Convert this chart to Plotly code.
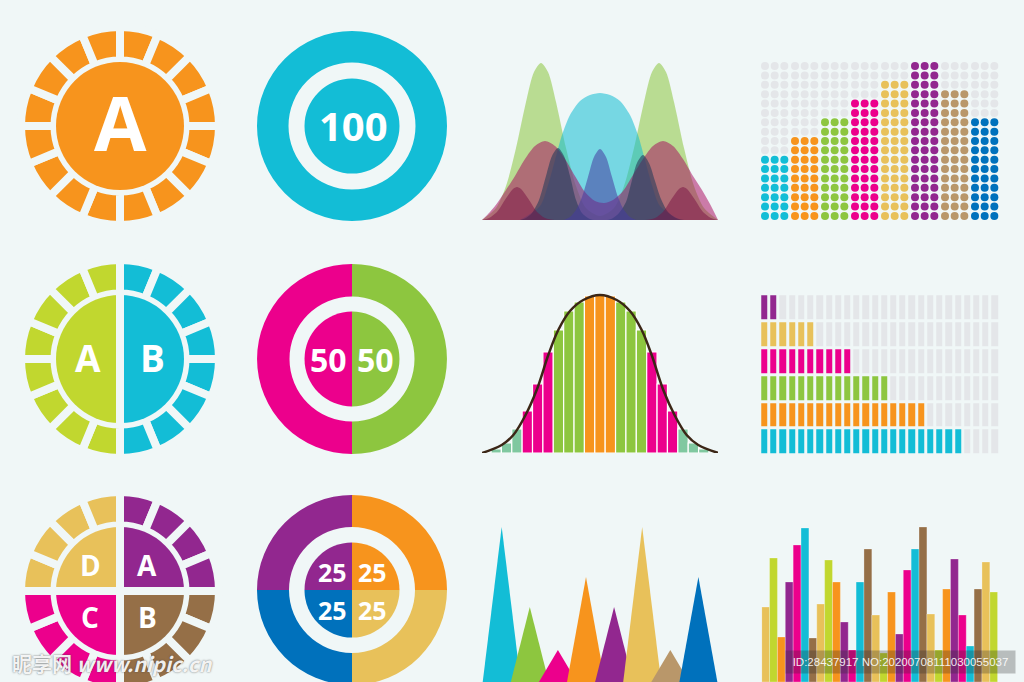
import plotly.graph_objects as go

W, H = 1024, 700
BG = "#f0f7f7"

ORANGE = "#f7941d"; CYAN = "#13bdd6"; LIME = "#c1d72f"; GREEN = "#8dc63f"
MAGENTA = "#ec008c"; PURPLE = "#92278f"; YELLOW = "#e8c15a"; BROWN = "#956f47"
TAN = "#b9976a"; BLUE = "#0071bc"; MINT = "#80c8a0"; GRAY = "#e4e6e9"

# ---------------- data ----------------
ring_segments = [1] * 16                 # segmented outer rings
sun_label = "A"
target_label = "100"
half_labels = ["A", "B"]
half_values = [50, 50]
quarter_labels = ["D", "A", "C", "B"]    # TL, TR, BL, BR
quarter_values = [25, 25, 25, 25]

# overlapping waves (x position, height)
wave_green_x = [482, 496, 506, 516, 526, 534, 541, 548, 556, 566, 576, 586, 600, 614, 624, 634, 644, 652, 659, 666, 674, 684, 694, 704, 718]
wave_green_y = [0, 12, 34, 72, 118, 148, 157, 148, 118, 72, 34, 12, 4, 12, 34, 72, 118, 148, 157, 148, 118, 72, 34, 12, 0]
wave_cyan_x = [520, 540, 548, 555, 562, 570, 580, 590, 600, 610, 620, 630, 638, 645, 652, 660, 680]
wave_cyan_y = [0, 14, 35, 60, 85, 105, 119, 125, 127, 125, 119, 105, 85, 60, 35, 14, 0]
wave_red_x = [482, 490, 498, 506, 515, 525, 535, 545, 555, 565, 575, 585, 595, 604, 613, 623, 633, 643, 653, 663, 673, 683, 693, 702, 710, 718]
wave_red_y = [0, 8, 18, 30, 44, 61, 74, 79, 74, 61, 44, 28, 19, 17, 20, 29, 45, 61, 74, 79, 74, 61, 44, 30, 16, 0]
wave_slate_x = [520, 526, 532, 539, 546, 552, 558, 564, 570, 576, 582, 588, 594, 607, 613, 619, 626, 631, 637, 643, 649, 655, 661, 668, 676, 684]
wave_slate_y = [0, 2, 7, 20, 44, 64, 72, 64, 44, 20, 7, 2, 0, 0, 2, 7, 18, 36, 57, 65, 57, 39, 21, 8, 2, 0]
wave_violet_x = [564, 570, 576, 582, 588, 594, 600, 606, 612, 618, 624, 630, 636]
wave_violet_y = [0, 3, 10, 23, 43, 63, 71, 63, 43, 23, 10, 3, 0]
wave_dark_x = [482, 489, 497, 503, 509, 513, 517, 521, 525, 531, 537, 545, 555, 645, 655, 663, 669, 675, 679, 683, 687, 691, 697, 703, 711, 718]
wave_dark_y = [0, 2, 8, 17, 26, 31, 33, 31, 26, 17, 8, 2, 0, 0, 2, 8, 17, 26, 31, 33, 31, 26, 17, 8, 2, 0]

# dot grid
dot_levels = [7, 9, 11, 13, 15, 17, 14, 11]
dot_colors = [CYAN, ORANGE, GREEN, MAGENTA, YELLOW, PURPLE, TAN, BLUE]
dot_rows = 17
dot_cols = 3

# histogram + normal curve
hist_heights = [4, 10, 24, 42, 69, 101, 123, 142, 151, 157, 158, 157, 151, 142, 123, 101, 69, 42, 24, 10, 4]
hist_colors = [MINT] * 3 + [MAGENTA] * 3 + [GREEN] * 3 + [ORANGE] * 3 + [GREEN] * 3 + [MAGENTA] * 3 + [MINT] * 3
bell_x = [-1.37, 0.53, 1.65, 2.78, 3.90, 5.02, 5.98, 7.11, 8.39, 10.0, 11.61, 12.89, 14.02, 14.98, 16.10, 17.23, 18.35, 19.47, 21.4]
bell_y = [0, 8, 18, 37, 63, 98, 123, 142, 153, 158, 153, 142, 123, 98, 63, 37, 18, 8, 0]

# segmented horizontal bars (bottom row first)
seg_counts = [22, 18, 14, 10, 6, 2]
seg_colors = [CYAN, ORANGE, GREEN, MAGENTA, YELLOW, PURPLE]
seg_total = 26

# spikes
spike_heights = [155, 75, 32, 105, 75, 155, 32, 105]
spike_colors = [CYAN, GREEN, MAGENTA, ORANGE, PURPLE, YELLOW, TAN, BLUE]

# column bars
bar_heights = [75, 124, 45, 100, 137, 154, 44, 78, 122, 100, 60, 32, 100, 133, 67, 29,
               90, 48, 112, 133, 155, 68, 32, 93, 123, 67, 36, 93, 120, 90]
bar_cycle = [YELLOW, LIME, ORANGE, PURPLE, MAGENTA, CYAN, BROWN]

# ---------------- helpers ----------------
def fx(px):
    return px / W

def fy(py):
    return 1 - py / H

def pie_dom(cx, cy, r):
    return dict(x=[fx(cx - r), fx(cx + r)], y=[fy(cy + r), fy(cy - r)])

fig = go.Figure()

def add_pie(cx, cy, r, values, colors, hole=0, line_w=0):
    fig.add_trace(go.Pie(values=values, marker=dict(colors=colors, line=dict(color=BG, width=line_w)),
                         hole=hole, domain=pie_dom(cx, cy, r), sort=False, direction="clockwise",
                         rotation=0, textinfo="none", hoverinfo="skip", showlegend=False))

def label(x, y, text, size, color="white", family="Open Sans", weight=700):
    fig.add_annotation(x=fx(x), y=fy(y), xref="paper", yref="paper", text=text, showarrow=False,
                       xanchor="center", yanchor="middle",
                       font=dict(family=family, size=size, color=color, weight=weight))

def gap_line(x0, y0, x1, y1):
    fig.add_shape(type="line", xref="paper", yref="paper", x0=fx(x0), y0=fy(y0), x1=fx(x1), y1=fy(y1),
                  line=dict(color=BG, width=8), layer="above")

RING_R, RING_HOLE, DISC_R = 99, 0.6616, 64

# ---- column 1: segmented sun rings ----
cx, cy = 120, 126
add_pie(cx, cy, RING_R, ring_segments, [ORANGE] * 16, RING_HOLE, 8)
add_pie(cx, cy, DISC_R, [1], [ORANGE])
label(120, 122, sun_label, 76)

cx, cy = 120, 359
add_pie(cx, cy, RING_R, ring_segments, [CYAN] * 8 + [LIME] * 8, RING_HOLE, 8)
add_pie(cx, cy, DISC_R, half_values, [CYAN, LIME])
gap_line(cx, cy - 68, cx, cy + 68)
label(88, 357, half_labels[0], 37)
label(152, 357, half_labels[1], 37)

cx, cy = 120, 591
add_pie(cx, cy, RING_R, ring_segments, [PURPLE] * 4 + [BROWN] * 4 + [MAGENTA] * 4 + [YELLOW] * 4, RING_HOLE, 8)
add_pie(cx, cy, DISC_R, quarter_values, [PURPLE, BROWN, MAGENTA, YELLOW])
gap_line(cx, cy - 68, cx, cy + 68)
gap_line(cx - 68, cy, cx + 68, cy)
for (lx, ly), t in zip([(90, 565), (147, 565), (90, 617), (147, 617)], quarter_labels):
    label(lx, ly, t, 28)

# ---- column 2: donuts ----
cx, cy = 352, 126
add_pie(cx, cy, 95, [1], [CYAN], 63.5 / 95)
add_pie(cx, cy, 47.5, [1], [CYAN])
label(353, 126, target_label, 40)

cx, cy = 352, 359
add_pie(cx, cy, 95, half_values, [GREEN, MAGENTA], 62.5 / 95)
add_pie(cx, cy, 47.5, half_values, [GREEN, MAGENTA])
label(328, 360, str(half_values[1]), 32)
label(375, 360, str(half_values[0]), 32)

cx, cy = 352, 590
add_pie(cx, cy, 95, quarter_values, [ORANGE, YELLOW, BLUE, PURPLE], 63 / 95)
add_pie(cx, cy, 47.5, quarter_values, [ORANGE, YELLOW, BLUE, PURPLE])
for (lx, ly), v in zip([(332, 572), (372, 572), (332, 610), (372, 610)], quarter_values):
    label(lx, ly, str(v), 25)

# ---- axes helper ----
layout_axes = {}
def place(n, left, right, top, bottom, xr, yr):
    layout_axes[f"xaxis{n}"] = dict(domain=[fx(left), fx(right)], range=xr, visible=False,
                                    fixedrange=True, anchor=f"y{n}")
    layout_axes[f"yaxis{n}"] = dict(domain=[fy(bottom), fy(top)], range=yr, visible=False,
                                    fixedrange=True, anchor=f"x{n}")

# ---- waves ----
place(1, 482, 718, 60, 220, [482, 718], [0, 160])
for xs, ys, col in [(wave_green_x, wave_green_y, "rgba(141,198,63,0.55)"),
                    (wave_cyan_x, wave_cyan_y, "rgba(19,189,212,0.55)"),
                    (wave_red_x, wave_red_y, "rgba(165,0,90,0.5)"),
                    (wave_slate_x, wave_slate_y, "rgba(40,60,90,0.6)"),
                    (wave_violet_x, wave_violet_y, "rgba(70,60,160,0.55)"),
                    (wave_dark_x, wave_dark_y, "rgba(120,15,65,0.5)")]:
    fig.add_trace(go.Scatter(x=xs, y=ys, mode="lines", line=dict(width=0, shape="spline", smoothing=0.8),
                             fill="tozeroy", fillcolor=col, hoverinfo="skip", showlegend=False,
                             xaxis="x1", yaxis="y1"))

# ---- dot grid ----
place(2, 750, 1010, 56, 226, [-0.8223, 7.8443], [-1.0667, 17.0667])
dx, dy, dc = [], [], []
for g, (lvl, col) in enumerate(zip(dot_levels, dot_colors)):
    for j in range(dot_cols):
        for r in range(dot_rows):
            dx.append(g + (j - 1) * 0.3222)
            dy.append(r)
            dc.append(col if r < lvl else GRAY)
fig.add_trace(go.Scatter(x=dx, y=dy, mode="markers", marker=dict(size=8, color=dc, line=dict(width=0)),
                         hoverinfo="skip", showlegend=False, xaxis="x2", yaxis="y2"))

# ---- histogram ----
place(3, 482, 718, 290, 453, [-1.367, 21.37], [0, 163])
fig.add_trace(go.Bar(x=list(range(len(hist_heights))), y=hist_heights, width=1,
                     marker=dict(color=hist_colors, line=dict(color="white", width=1.2)),
                     hoverinfo="skip", showlegend=False, xaxis="x3", yaxis="y3"))
fig.add_trace(go.Scatter(x=bell_x, y=bell_y, mode="lines", line=dict(color="#3b2616", width=2.5, shape="spline"),
                         hoverinfo="skip", showlegend=False, xaxis="x3", yaxis="y3"))

# ---- segmented horizontal bars ----
place(4, 760.2, 999.8, 294.2, 455.5, [-0.5, seg_total - 0.5], [-0.5, len(seg_counts) - 0.5])
z = [[(i + 1) if c < cnt else 0 for c in range(seg_total)] for i, cnt in enumerate(seg_counts)]
palette = [GRAY] + seg_colors
n = len(palette)
cs = []
for k, col in enumerate(palette):
    cs.append([k / n, col]); cs.append([(k + 1) / n, col])
fig.add_trace(go.Heatmap(z=z, x=list(range(seg_total)), y=list(range(len(seg_counts))), colorscale=cs,
                         zmin=-0.5, zmax=n - 0.5, xgap=3, ygap=3, showscale=False, hoverinfo="skip",
                         xaxis="x4", yaxis="y4"))

# ---- spikes ----
place(5, 470, 730, 510, 682, [-1.128, 8.125], [0, 172])
hw = 0.676
for i, (h, col) in enumerate(zip(spike_heights, spike_colors)):
    fig.add_trace(go.Scatter(x=[i - hw, i, i + hw, i - hw], y=[0, h, 0, 0], mode="lines", fill="toself",
                             fillcolor=col, line=dict(width=0), hoverinfo="skip", showlegend=False,
                             xaxis="x5", yaxis="y5"))

# ---- column bars ----
place(6, 761.7, 997.7, 510, 682, [-0.5, len(bar_heights) - 0.5], [0, 172])
fig.add_trace(go.Bar(x=list(range(len(bar_heights))), y=bar_heights, width=1,
                     marker=dict(color=[bar_cycle[i % len(bar_cycle)] for i in range(len(bar_heights))],
                                 line=dict(color="rgba(255,255,255,0.45)", width=0.6)),
                     hoverinfo="skip", showlegend=False, xaxis="x6", yaxis="y6"))

# ---- watermarks ----
fig.add_annotation(x=fx(112), y=fy(663), xref="paper", yref="paper", showarrow=False,
                   text="昵享网 <i>www.nipic.cn</i>", xanchor="center", yanchor="middle",
                   font=dict(family="Noto Sans CJK SC", size=20, color="rgba(255,255,255,0.92)", weight=700,
                             shadow="0px 0px 2px rgba(70,70,70,0.9)"))
fig.add_annotation(x=fx(900.5), y=fy(662), xref="paper", yref="paper", showarrow=False,
                   text="ID:28437917 NO:20200708111030055037", xanchor="center", yanchor="middle",
                   width=227, height=20, bgcolor="rgba(40,40,40,0.28)",
                   font=dict(family="Liberation Sans, Arial, sans-serif",
                             size=11.5, color="rgba(255,255,255,0.9)"))

fig.update_layout(width=W, height=H, autosize=False, margin=dict(l=0, r=0, t=0, b=0, pad=0),
                  paper_bgcolor=BG, plot_bgcolor="rgba(0,0,0,0)", showlegend=False, **layout_axes)

fig.write_html("out.html", config={"displayModeBar": False, "staticPlot": True},
               post_script="document.body.style.margin='0';document.body.style.overflow='hidden';document.documentElement.style.overflow='hidden';")
